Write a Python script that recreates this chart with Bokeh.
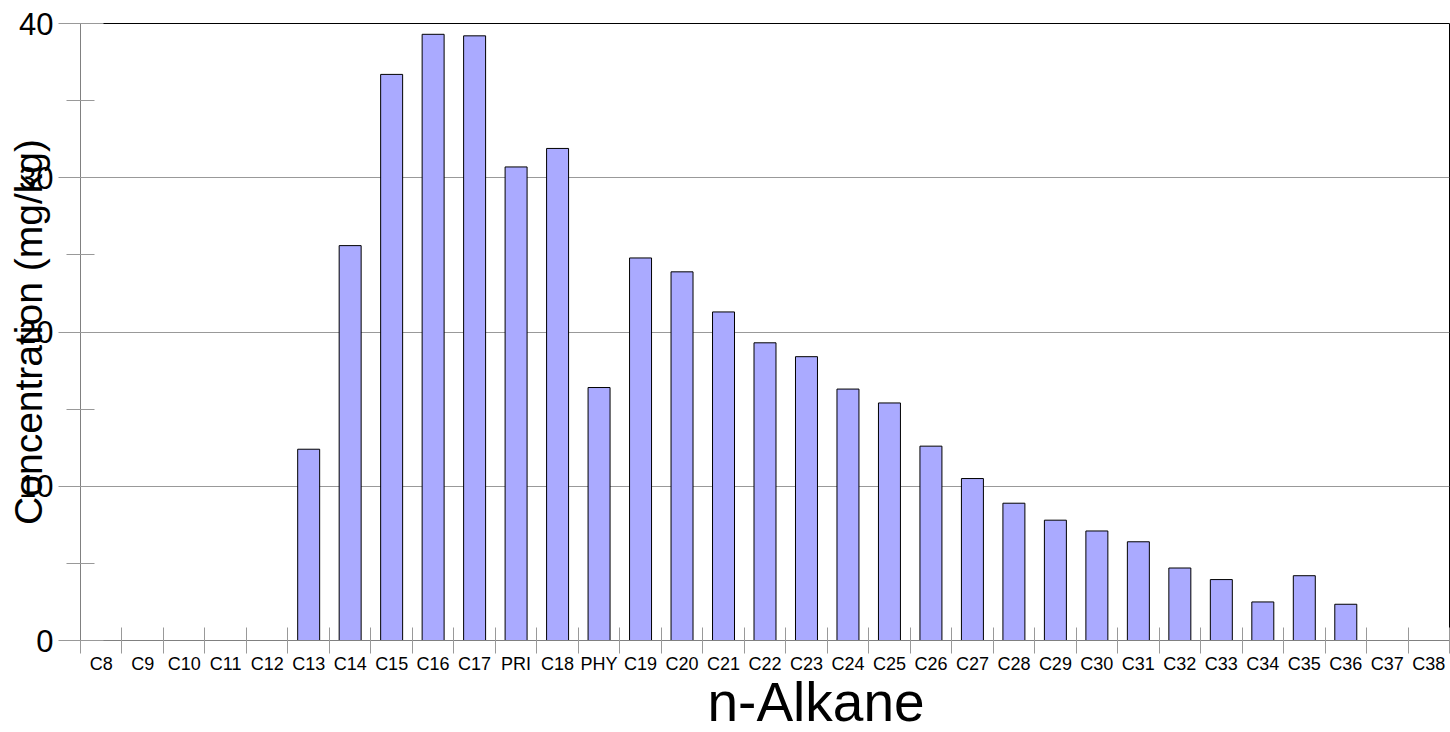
from bokeh.plotting import figure
from bokeh.models import FixedTicker, Range1d, ColumnDataSource, Title
from bokeh.embed import file_html
from bokeh.resources import INLINE

categories = ["C8", "C9", "C10", "C11", "C12", "C13", "C14", "C15", "C16", "C17",
              "PRI", "C18", "PHY", "C19", "C20", "C21", "C22", "C23", "C24", "C25",
              "C26", "C27", "C28", "C29", "C30", "C31", "C32", "C33", "C34", "C35",
              "C36", "C37", "C38"]
values = [0, 0, 0, 0, 0, 12.4, 25.6, 36.7, 39.3, 39.2,
          30.7, 31.9, 16.4, 24.8, 23.9, 21.3, 19.3, 18.4, 16.3, 15.4,
          12.6, 10.5, 8.9, 7.8, 7.1, 6.4, 4.7, 3.95, 2.5, 4.2,
          2.35, 0, 0]
y_ticks = [0, 10, 20, 30, 40]
y_minor = [5, 15, 25, 35]
x_title = "n-Alkane"
y_title = "Concentration (mg/kg)"

FONT = "Liberation Sans"

xs = [i + 0.5 for i, v in enumerate(values) if v > 0]
tops = [v for v in values if v > 0]
src = ColumnDataSource(dict(x=xs, top=tops))

p = figure(width=1450, height=732, output_backend="svg", toolbar_location=None,
           x_range=Range1d(0, len(categories)), y_range=Range1d(0, 40),
           min_border_left=80, min_border_right=1, min_border_top=23, min_border_bottom=92)

p.vbar(x="x", top="top", bottom=0, width=0.53, source=src,
       fill_color="#aaaaff", line_color="black", line_width=1)

p.outline_line_color = "black"
p.background_fill_color = "white"
p.border_fill_color = "white"

# x axis
xa = p.xaxis[0]
centers = [i + 0.5 for i in range(len(categories))]
xa.ticker = FixedTicker(ticks=centers, minor_ticks=list(range(len(categories) + 1)))
xa.major_label_overrides = {c: name for c, name in zip(centers, categories)}
xa.major_tick_in = 0
xa.major_tick_out = 0
xa.minor_tick_in = 13
xa.minor_tick_out = 13
xa.minor_tick_line_color = "#999999"
xa.axis_line_color = "#808080"
xa.major_label_text_font = FONT
xa.major_label_text_font_size = "18px"
xa.major_label_text_color = "black"
xa.major_label_standoff = 0

# x axis title (slightly right of centre, as in the reference)
p.add_layout(Title(text=x_title, align="left", offset=627, standoff=-15,
                   text_font=FONT, text_font_size="55px", text_font_style="normal",
                   text_color="black"), "below")

# y axis
ya = p.yaxis[0]
ya.ticker = FixedTicker(ticks=y_ticks, minor_ticks=y_minor)
ya.major_tick_in = 23
ya.major_tick_out = 22
ya.minor_tick_in = 14
ya.minor_tick_out = 14
ya.major_tick_line_color = "#999999"
ya.minor_tick_line_color = "#999999"
ya.axis_line_color = "#808080"
ya.major_label_text_font = FONT
ya.major_label_text_font_size = "31px"
ya.major_label_text_color = "black"
ya.major_label_standoff = 5
ya.axis_label = y_title
ya.axis_label_text_font = FONT
ya.axis_label_text_font_style = "normal"
ya.axis_label_text_font_size = "39px"
ya.axis_label_text_color = "black"
ya.axis_label_standoff = -34

p.xgrid.visible = False
p.ygrid.ticker = FixedTicker(ticks=y_ticks)
p.ygrid.grid_line_color = "#999999"

open("out.html", "w").write(file_html(p, INLINE))
